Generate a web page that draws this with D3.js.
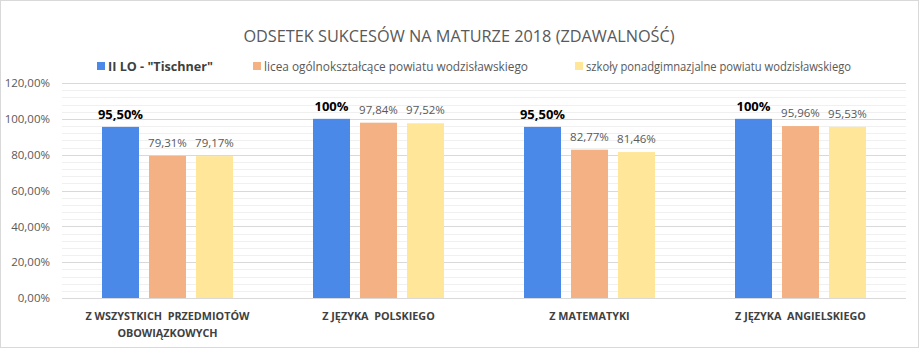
<!DOCTYPE html>
<html><head><meta charset="utf-8">
<script src="https://cdn.jsdelivr.net/npm/d3@7"></script>
<style>
html,body{margin:0;padding:0;background:#fff;}
svg{display:block;font-family:"Open Sans",sans-serif;}
</style></head>
<body><svg id="c" width="920" height="349"></svg>
<script>
const title = "ODSETEK SUKCESÓW NA MATURZE 2018 (ZDAWALNOŚĆ)";
const categories = [["Z WSZYSTKICH  PRZEDMIOTÓW","OBOWIĄZKOWYCH"],["Z JĘZYKA  POLSKIEGO"],["Z MATEMATYKI"],["Z JĘZYKA  ANGIELSKIEGO"]];
const seriesNames = ["II LO - \"Tischner\"","licea ogólnokształcące powiatu wodzisławskiego","szkoły ponadgimnazjalne powiatu wodzisławskiego"];
const tischner = [95.50, 100, 95.50, 100];
const licea = [79.31, 97.84, 82.77, 95.96];
const szkoly = [79.17, 97.52, 81.46, 95.53];
const tischnerLabels = ["95,50%","100%","95,50%","100%"];
const yTicks = [0,20,40,60,80,100,120];
const colors = ["#4a89e8","#f4b183","#ffe699"];

const series = [tischner, licea, szkoly];
const svg = d3.select("#c");
const m = {l:62, r:906, t:83, b:298};

svg.append("rect").attr("x",0.5).attr("y",0.5).attr("width",918).attr("height",347)
  .attr("fill","#fff").attr("stroke","#d9d9d9");

const y = d3.scaleLinear().domain([0,120]).range([m.b,m.t]);
const x0 = d3.scaleBand().domain(d3.range(categories.length)).range([m.l,m.r]);
const x1 = d3.scaleBand().domain([0,1,2]).range([0,131]).paddingInner(0.213).paddingOuter(0);

const minor = d3.range(0,121,4).filter(v=>v%20!==0);
svg.append("g").selectAll("line").data(minor).join("line")
  .attr("x1",m.l).attr("x2",m.r).attr("y1",d=>Math.round(y(d))+0.5).attr("y2",d=>Math.round(y(d))+0.5)
  .attr("stroke","#f0f0f0");
svg.append("g").selectAll("line").data(yTicks).join("line")
  .attr("x1",m.l).attr("x2",m.r).attr("y1",d=>Math.round(y(d))+0.5).attr("y2",d=>Math.round(y(d))+0.5)
  .attr("stroke","#d9d9d9");

const yAxis = d3.axisLeft(y).tickValues(yTicks).tickSize(0).tickPadding(0)
  .tickFormat(d=>d3.format(".2f")(d).replace(".",",")+"%");
const ya = svg.append("g").attr("transform",`translate(${m.l-12},0)`).call(yAxis);
ya.select(".domain").remove();
ya.selectAll("text").attr("fill","#595959").style("font-size","11.5px").style("font-family","\"Open Sans\",sans-serif");

categories.forEach((c,i)=>{
  const cx = x0(i) + x0.bandwidth()/2;
  const g = svg.append("g").attr("transform",`translate(${cx-65.5},0)`);
  series.forEach((s,j)=>{
    g.append("rect").attr("x",x1(j)).attr("width",x1.bandwidth())
      .attr("y",y(s[i])).attr("height",y(0)-y(s[i])).attr("fill",colors[j]);
    const lbl = j===0 ? tischnerLabels[i] : d3.format(".2f")(s[i]).replace(".",",")+"%";
    g.append("text").attr("x",x1(j)+x1.bandwidth()/2).attr("y",y(s[i])-(j===0?8:9))
      .attr("text-anchor","middle")
      .attr("fill", j===0 ? "#000" : "#595959")
      .attr("font-weight", j===0 ? "bold" : "normal")
      .style("font-size", j===0 ? "13px" : "11.5px")
      .text(lbl);
  });
  c.forEach((line,k)=>{
    svg.append("text").attr("x",cx).attr("y",320+k*17).attr("text-anchor","middle")
      .attr("fill","#404040").attr("font-weight","bold").style("font-size","10.8px")
      .attr("xml:space","preserve").text(line);
  });
});

svg.append("text").attr("x",459).attr("y",42).attr("text-anchor","middle")
  .attr("fill","#595959").style("font-size","16.3px").text(title);

const legX = [97, 253, 575];
const legW = [105, 264, 265];
seriesNames.forEach((n,j)=>{
  svg.append("rect").attr("x",legX[j]).attr("y",62).attr("width",8).attr("height",8).attr("fill",colors[j]);
  svg.append("text").attr("x",legX[j]+11).attr("y",70.5)
    .attr("fill", j===0 ? "#404040" : "#595959")
    .attr("font-weight", j===0 ? "bold" : "normal")
    .style("font-size", j===0 ? "13px" : "12px")
    .attr("textLength", legW[j]).attr("lengthAdjust","spacingAndGlyphs")
    .text(n);
});
</script></body></html>
